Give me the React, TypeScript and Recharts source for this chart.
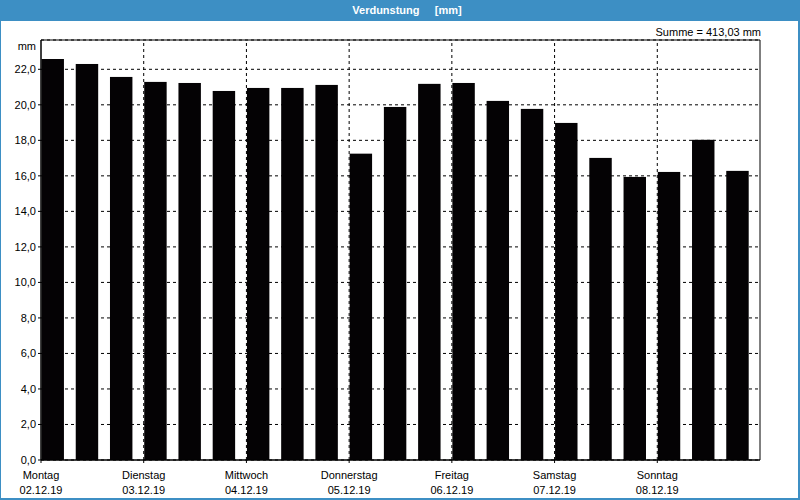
import {
  BarChart,
  Bar,
  XAxis,
  YAxis,
  CartesianGrid,
  ReferenceLine,
  ReferenceArea,
} from "recharts";

const dayNames = ["Montag", "Dienstag", "Mittwoch", "Donnerstag", "Freitag", "Samstag", "Sonntag"];
const dayDates = ["02.12.19", "03.12.19", "04.12.19", "05.12.19", "06.12.19", "07.12.19", "08.12.19"];
// three readings per day
const evaporation = [
  22.58, 22.3, 21.57, 21.29, 21.23, 20.78, 20.95, 20.95, 21.12, 17.25, 19.88,
  21.18, 21.23, 20.22, 19.77, 18.98, 17.01, 15.94, 16.22, 18.03, 16.28,
];
const yTicks = [0, 2, 4, 6, 8, 10, 12, 14, 16, 18, 20, 22];
// slots where a new day starts
const dayStarts = [0, 3, 6, 9, 12, 15, 18];
const yMax = 23.65;
const total = "413,03";

const data = evaporation.map((mm, i) => ({ slot: i, mm }));

const FONT = "'Liberation Sans', Arial, sans-serif";
const BLUE = "#3d8fc4";

function fmtY(v: number) {
  return v.toFixed(1).replace(".", ",");
}

// label sits on the day boundary (start of the band), not the band centre
// eslint-disable-next-line @typescript-eslint/no-explicit-any
function DayTick(props: any) {
  const { x, y, payload } = props;
  const i = dayStarts.indexOf(payload.value as number);
  if (i < 0) return null;
  const bx = x - (payload.offset ?? 0);
  return (
    <g>
      <line x1={bx} x2={bx} y1={y - 3} y2={y} stroke="#000" />
      <text x={bx} y={y} dy={16} textAnchor="middle" fill="#000" fontSize={11} fontFamily={FONT}>
        {dayNames[i]}
      </text>
      <text x={bx} y={y} dy={31} textAnchor="middle" fill="#000" fontSize={11} fontFamily={FONT}>
        {dayDates[i]}
      </text>
    </g>
  );
}

// bar sits at the left of its slot, about two thirds of the slot wide
// eslint-disable-next-line @typescript-eslint/no-explicit-any
function SlotBar(props: any) {
  const { x, y, width, height } = props;
  return <rect x={x + 0.5} y={y} width={width * 0.66} height={height} fill="#040204" />;
}

export default function App() {
  return (
    <div
      style={{
        position: "absolute",
        left: 0,
        top: 0,
        width: 800,
        height: 500,
        background: "#fff",
        fontFamily: FONT,
      }}
    >
      <div
        style={{
          position: "absolute",
          left: 0,
          top: 0,
          width: 800,
          height: 21,
          background: BLUE,
          color: "#fff",
          fontWeight: "bold",
          fontSize: 11,
          lineHeight: "21px",
          textAlign: "center",
          whiteSpace: "pre",
          paddingLeft: 14,
          boxSizing: "border-box",
        }}
      >
        {"Verdunstung     [mm]"}
      </div>
      <div
        style={{
          position: "absolute",
          left: 0,
          top: 0,
          width: 800,
          height: 500,
          boxSizing: "border-box",
          borderLeft: `1px solid ${BLUE}`,
          borderRight: `2px solid ${BLUE}`,
          borderBottom: `2px solid ${BLUE}`,
          pointerEvents: "none",
        }}
      />
      <div
        style={{
          position: "absolute",
          right: 39,
          top: 26,
          fontSize: 11,
          color: "#000",
          whiteSpace: "pre",
        }}
      >
        {`Summe = ${total} mm`}
      </div>
      <div
        style={{
          position: "absolute",
          right: 764,
          top: 40,
          fontSize: 11,
          color: "#000",
        }}
      >
        mm
      </div>
      <div style={{ position: "absolute", left: 0, top: 0 }}>
        <BarChart
          width={800}
          height={500}
          data={data}
          margin={{ top: 40, right: 40, left: 0, bottom: 0 }}
          barCategoryGap={0}
        >
          <CartesianGrid vertical={false} stroke="#000" strokeDasharray="3 3" />
          <XAxis
            dataKey="slot"
            ticks={dayStarts}
            interval={0}
            height={40}
            axisLine={{ stroke: "#000" }}
            tickLine={false}
            tickSize={3}
            tickMargin={0}
            tick={<DayTick />}
          />
          <YAxis
            domain={[0, yMax]}
            ticks={yTicks}
            interval={0}
            width={41}
            tickFormatter={fmtY}
            axisLine={{ stroke: "#000" }}
            tickLine={{ stroke: "#000" }}
            tickSize={3}
            tickMargin={2}
            tick={{ fill: "#000", fontSize: 11, fontFamily: FONT }}
            allowDataOverflow
          />
          {dayStarts.slice(1).map((d) => (
            <ReferenceLine
              key={d}
              x={d}
              position="start"
              stroke="#000"
              strokeDasharray="3 3"
            />
          ))}
          <Bar dataKey="mm" shape={<SlotBar />} isAnimationActive={false} />
          <ReferenceArea
            x1={0}
            x2={20}
            y1={0}
            y2={yMax}
            fill="none"
            fillOpacity={0}
            stroke="#000"
            strokeWidth={1}
          />
        </BarChart>
      </div>
    </div>
  );
}
